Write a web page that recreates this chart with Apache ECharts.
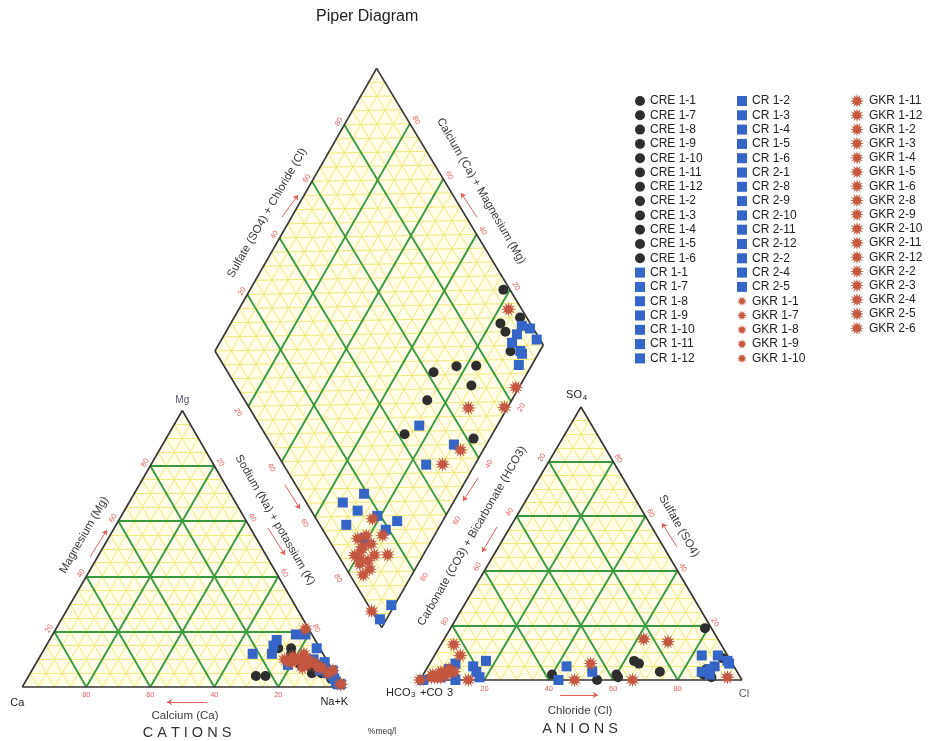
<!DOCTYPE html>
<html>
<head>
<meta charset="utf-8">
<title>Piper Diagram</title>
<script src="https://cdn.jsdelivr.net/npm/echarts@6/dist/echarts.min.js"></script>
<style>
  html, body { margin: 0; padding: 0; background: #ffffff; }
  #chart { width: 931px; height: 741px; }
</style>
</head>
<body>
<div id="chart"></div>
<script>
// ---------------------------------------------------------------
// Sample chemistry, % meq/l.  Na+K = 100 - Ca - Mg ; SO4 = 100 - HCO3 - Cl
// ---------------------------------------------------------------
const creNames = ['CRE 1-1','CRE 1-7','CRE 1-8','CRE 1-9','CRE 1-10','CRE 1-11','CRE 1-12','CRE 1-2','CRE 1-3','CRE 1-4','CRE 1-5','CRE 1-6'];
const creCa   = [10, 7, 8, 6, 4, 25, 9, 9, 22, 7, 13, 2];
const creMg   = [12, 5, 9, 8, 5, 4, 14, 8, 4, 8, 14, 3];
const creHCO3 = [2, 2, 9, 9, 11, 38, 30, 24, 45, 29, 58, 38];
const creCl   = [79, 90, 87, 90, 87, 60, 63, 73, 55, 65, 40, 61];

const crNames = ['CR 1-1','CR 1-7','CR 1-8','CR 1-9','CR 1-10','CR 1-11','CR 1-12','CR 1-2','CR 1-3','CR 1-4','CR 1-5','CR 1-6','CR 2-1','CR 2-8','CR 2-9','CR 2-10','CR 2-11','CR 2-12','CR 2-2','CR 2-4','CR 2-5'];
const crCa   = [3, 4, 2, 1, 1, 5, 1, 1, 12, 22, 16, 13, 4, 14, 7, 2, 0, 1, 0, 2, 1];
const crMg   = [7, 6, 8, 2, 3, 19, 9, 14, 17, 12, 12, 8, 10, 15, 9, 19, 1, 1, 6, 5, 4];
const crHCO3 = [3, 6, 9, 1, 11, 52, 45, 57, 81, 89, 86, 81, 76, 92, 81, 89, 93, 99, 8, 1, 8];
const crCl   = [88, 89, 89, 92, 86, 43, 52, 43, 16, 11, 8, 18, 17, 6, 14, 7, 6, 1, 83, 93, 88];

const gkrNames = ['GKR 1-1','GKR 1-7','GKR 1-8','GKR 1-9','GKR 1-10','GKR 1-11','GKR 1-12','GKR 1-2','GKR 1-3','GKR 1-4','GKR 1-5','GKR 1-6','GKR 2-8','GKR 2-9','GKR 2-10','GKR 2-11','GKR 2-12','GKR 2-2','GKR 2-3','GKR 2-4','GKR 2-5','GKR 2-6'];
const gkrCa   = [7, 0, 4, 0, 2, 3, 1, 6, 4, 0, 11, 8, 9, 13, 7, 6, 12, 10, 5, 9, 6, 10];
const gkrMg   = [10, 1, 8, 1, 5, 7, 21, 10, 7, 6, 9, 10, 7, 10, 8, 12, 9, 10, 9, 10, 9, 11];
const gkrHCO3 = [4, 16, 34, 23, 44, 52, 83, 83, 85, 100, 92, 95, 92, 91, 96, 88, 95, 91, 93, 94, 89, 88];
const gkrCl   = [95, 70, 66, 62, 50, 48, 4, 8, 15, 0, 6, 4, 5, 7, 3, 9, 3, 7, 6, 5, 7, 9];

const tickValues = [20, 40, 60, 80];

// ---------------------------------------------------------------
// Plot layout (plot units = pixels of the canvas)
// ---------------------------------------------------------------
const W = 931, H = 741;
const CAT = { l: [22.3, 687], r: [342.3, 687], t: [182.3, 410.5] };   // Ca, Na+K, Mg
const AN  = { l: [420, 680],  r: [742, 680],   t: [581, 407] };       // HCO3+CO3, Cl, SO4
const DIA = { b: [381.7, 627.7], r: [543.3, 345], l: [215, 351] };

const FONT = '"Liberation Sans", Arial, sans-serif';
const TICK_COLOR = '#e2645e';
const TITLE_COLOR = '#3a3a3a';

// ternary -> plane: r = share of right corner, t = share of top corner
function tern(T, r, t) {
  const l = 1 - r - t;
  return [T.l[0] * l + T.r[0] * r + T.t[0] * t, T.l[1] * l + T.r[1] * r + T.t[1] * t];
}
// diamond: a = (SO4+Cl) share, c = (Ca+Mg) share
function dia(a, c) {
  return [DIA.b[0] + a * (DIA.r[0] - DIA.b[0]) + c * (DIA.l[0] - DIA.b[0]),
          DIA.b[1] + a * (DIA.r[1] - DIA.b[1]) + c * (DIA.l[1] - DIA.b[1])];
}
function samplePoints(ca, mg, hco3, cl) {
  const nak = 100 - ca - mg, so4 = 100 - hco3 - cl;
  return [
    tern(CAT, nak / 100, mg / 100),
    tern(AN, cl / 100, so4 / 100),
    dia((so4 + cl) / 100, (ca + mg) / 100)
  ];
}

// ---------------------------------------------------------------
// Grid lines
// ---------------------------------------------------------------
const minorLines = [], majorLines = [], outline = [];
function gridLine(k, p1, p2) { (k % 4 === 0 ? majorLines : minorLines).push({ coords: [p1, p2] }); }
[CAT, AN].forEach(T => {
  for (let k = 1; k < 20; k++) {
    const f = k / 20;
    gridLine(k, tern(T, 0, f), tern(T, 1 - f, f));
    gridLine(k, tern(T, f, 0), tern(T, f, 1 - f));
    gridLine(k, tern(T, 1 - f, 0), tern(T, 0, 1 - f));
  }
  outline.push({ coords: [T.l, T.r] }, { coords: [T.r, T.t] }, { coords: [T.t, T.l] });
});
for (let k = 1; k < 20; k++) {
  const f = k / 20;
  gridLine(k, dia(f, 0), dia(f, 1));
  gridLine(k, dia(0, f), dia(1, f));
}
for (let k = 1; k < 40; k++) {
  const s = k / 20;
  const p1 = s <= 1 ? dia(0, s) : dia(s - 1, 1);
  const p2 = s <= 1 ? dia(s, 0) : dia(1, s - 1);
  minorLines.push({ coords: [p1, p2] });
}
const DTOP = dia(1, 1);
outline.push({ coords: [DIA.b, DIA.r] }, { coords: [DIA.r, DTOP] }, { coords: [DTOP, DIA.l] }, { coords: [DIA.l, DIA.b] });

const shapes = [
  [CAT.l, CAT.r, CAT.t],
  [AN.l, AN.r, AN.t],
  [DIA.b, DIA.r, DTOP, DIA.l]
];

// ---------------------------------------------------------------
// Texts
// ---------------------------------------------------------------
const texts = [];
function txt(x, y, text, o) { texts.push(Object.assign({ x, y, text }, o || {})); }
const nUL = [-0.866, -0.5], nUR = [0.866, -0.5], nLL = [-0.866, 0.5], nLR = [0.866, 0.5];
function tick(p, n, d, rot, v) {
  txt(p[0] + n[0] * d, p[1] + n[1] * d, String(v), { rot, size: 7.5, color: TICK_COLOR });
}
tickValues.forEach(v => {
  const f = v / 100;
  tick(tern(CAT, 0, f), nUL, 6, 60, v);          // Mg
  tick(tern(CAT, f, 1 - f), nUR, 7, -60, v);     // Na+K
  tick(tern(CAT, 1 - f, 0), [0, 1], 8, 0, v);    // Ca
  tick(tern(AN, 0, 1 - f), nUL, 8, 60, v);       // HCO3+CO3
  tick(tern(AN, 1 - f, f), nUR, 6, -60, v);      // SO4
  tick(tern(AN, f, 0), [0, 1], 9, 0, v);         // Cl
  tick(dia(f, 1), nUL, 6, 60, v);                // SO4+Cl
  tick(dia(1, f), nUR, 7, -60, v);               // Ca+Mg
  tick(dia(0, 1 - f), nLL, 12, -60, v);          // Na+K
  tick(dia(1 - f, 0), nLR, 12, 60, v);           // CO3+HCO3
});

// corner labels
txt(CAT.t[0], CAT.t[1] - 10, 'Mg', { size: 10, color: '#555a70' });
txt(CAT.l[0] - 5, CAT.l[1] + 16, 'Ca', { size: 11, color: '#222' });
txt(CAT.r[0] - 8, CAT.r[1] + 15, 'Na+K', { size: 11, color: '#222' });
txt(AN.t[0] - 7, AN.t[1] - 12, 'SO', { size: 11, color: '#222' });
txt(AN.t[0] + 4, AN.t[1] - 9, '4', { size: 8, color: '#222' });
txt(AN.l[0] - 34, AN.l[1] + 13, 'HCO', { size: 11, color: '#222', align: 'left' });
txt(AN.l[0] - 9, AN.l[1] + 15, '3', { size: 8, color: '#222', align: 'left' });
txt(AN.l[0] + 0, AN.l[1] + 13, '+CO', { size: 11, color: '#222', align: 'left' });
txt(AN.l[0] + 27, AN.l[1] + 13, '3', { size: 11, color: '#222', align: 'left' });
txt(AN.r[0] + 2, AN.r[1] + 14, 'Cl', { size: 11, color: '#555' });

// axis titles
txt(185, 716, 'Calcium (Ca)', { size: 11.5, color: TITLE_COLOR });
txt(187, 733, 'C A T I O N S', { size: 14.5, color: '#333' });
txt(580, 711, 'Chloride (Cl)', { size: 11.5, color: TITLE_COLOR });
txt(580, 729, 'A N I O N S', { size: 14.5, color: '#333' });
txt(84, 535, 'Magnesium (Mg)', { size: 11.5, color: TITLE_COLOR, rot: 60 });
txt(275, 520, 'Sodium (Na) + potassium (K)', { size: 11.5, color: TITLE_COLOR, rot: -60 });
txt(267, 213, 'Sulfate (SO4) + Chloride (Cl)', { size: 11.5, color: TITLE_COLOR, rot: 60 });
txt(481, 191, 'Calcium (Ca) + Magnesium (Mg)', { size: 11.5, color: TITLE_COLOR, rot: -60 });
txt(472, 536, 'Carbonate (CO3) + Bicarbonate (HCO3)', { size: 11.5, color: TITLE_COLOR, rot: 60 });
txt(679, 526, 'Sulfate (SO4)', { size: 11.5, color: TITLE_COLOR, rot: -60 });
txt(382, 732, '%meq/l', { size: 8.5, color: '#333' });

// direction arrows (head at the second point)
const arrows = [
  [[207, 702], [167, 702]],
  [[560, 695], [598, 695]],
  [[90, 557], [107, 530]],
  [[285, 485], [300, 509]],
  [[268, 528], [285, 555]],
  [[282, 217], [298, 195]],
  [[477, 217], [461, 193]],
  [[478, 478], [463, 501]],
  [[497, 527], [482, 552]],
  [[677, 547], [662, 523]]
].map(c => ({ coords: c }));

// ---------------------------------------------------------------
// Sample series
// ---------------------------------------------------------------
function starPath(n, inner) {
  let d = '';
  for (let i = 0; i < 2 * n; i++) {
    const ang = Math.PI * i / n - Math.PI / 2;
    const r = i % 2 === 0 ? 1 : inner;
    d += (i === 0 ? 'M' : 'L') + (r * Math.cos(ang)).toFixed(3) + ' ' + (r * Math.sin(ang)).toFixed(3) + ' ';
  }
  return 'path://' + d + 'Z';
}
const STAR = starPath(12, 0.5);

const groups = [
  { names: creNames, ca: creCa, mg: creMg, hco3: creHCO3, cl: creCl, symbol: 'circle', size: 10, color: '#2e2e2e' },
  { names: crNames, ca: crCa, mg: crMg, hco3: crHCO3, cl: crCl, symbol: 'rect', size: 10, color: '#3565c6' },
  { names: gkrNames, ca: gkrCa, mg: gkrMg, hco3: gkrHCO3, cl: gkrCl, symbol: STAR, size: 15, color: '#c4573f' }
];
const sampleSeries = [];
groups.forEach(g => {
  g.names.forEach((name, i) => {
    sampleSeries.push({
      type: 'scatter', name, z: 6,
      symbol: g.symbol, symbolSize: g.size,
      itemStyle: { color: g.color, opacity: 1 },
      emphasis: { disabled: true },
      data: samplePoints(g.ca[i], g.mg[i], g.hco3[i], g.cl[i])
    });
  });
});

const legendCol1 = creNames.concat(crNames.slice(0, 7));
const legendCol2 = crNames.slice(7).concat(gkrNames.slice(0, 5));
const legendCol3 = gkrNames.slice(5);
function legendCol(data, left, top, size, gap) {
  return {
    data, left, top, orient: 'vertical', padding: 0, selectedMode: false,
    itemWidth: size, itemHeight: size, itemGap: gap,
    textStyle: { fontSize: 12, color: '#222', fontFamily: FONT, lineHeight: 12 }
  };
}

const chart = echarts.init(document.getElementById('chart'), null, { renderer: 'canvas' });
chart.setOption({
  animation: false,
  backgroundColor: '#ffffff',
  title: {
    text: 'Piper Diagram', left: 316, top: 9, padding: 0,
    textStyle: { fontSize: 16, fontWeight: 'normal', color: '#222', fontFamily: FONT }
  },
  legend: [
    legendCol(legendCol1, 635, 95, 10, 2.3),
    legendCol(legendCol2, 737, 95, 10, 2.3),
    legendCol(legendCol3, 850, 94, 14, 0.2)
  ],
  grid: { left: 0, right: 0, top: 0, bottom: 0, containLabel: false },
  xAxis: { type: 'value', min: 0, max: W, show: false },
  yAxis: { type: 'value', min: 0, max: H, inverse: true, show: false },
  series: [
    {
      type: 'custom', name: 'fill', coordinateSystem: 'cartesian2d', silent: true, z: 1,
      data: shapes.map((s, i) => [i, 0]),
      renderItem: (params, api) => ({
        type: 'polygon',
        shape: { points: shapes[params.dataIndex].map(p => api.coord(p)) },
        style: { fill: '#fffde8' }
      })
    },
    {
      type: 'lines', name: 'minor', coordinateSystem: 'cartesian2d', silent: true, z: 2,
      lineStyle: { color: '#f2e976', width: 1, opacity: 1 }, data: minorLines
    },
    {
      type: 'lines', name: 'major', coordinateSystem: 'cartesian2d', silent: true, z: 3,
      lineStyle: { color: '#399a3c', width: 1.9, opacity: 1 }, data: majorLines
    },
    {
      type: 'lines', name: 'outline', coordinateSystem: 'cartesian2d', silent: true, z: 4,
      lineStyle: { color: '#333333', width: 1.6, opacity: 1 }, data: outline
    },
    {
      type: 'lines', name: 'arrows', coordinateSystem: 'cartesian2d', silent: true, z: 4,
      symbol: ['none', 'arrow'], symbolSize: 5,
      lineStyle: { color: '#e0605a', width: 1, opacity: 1 }, data: arrows
    },
    {
      type: 'custom', name: 'texts', coordinateSystem: 'cartesian2d', silent: true, z: 5,
      data: texts.map(t => [t.x, t.y]),
      renderItem: (params, api) => {
        const d = texts[params.dataIndex];
        const p = api.coord([api.value(0), api.value(1)]);
        return {
          type: 'text', x: p[0], y: p[1], rotation: (d.rot || 0) * Math.PI / 180,
          style: {
            text: d.text, fill: d.color || '#333',
            font: (d.size || 11) + 'px ' + FONT,
            align: d.align || 'center', verticalAlign: 'middle'
          }
        };
      }
    }
  ].concat(sampleSeries)
});
</script>
</body>
</html>
